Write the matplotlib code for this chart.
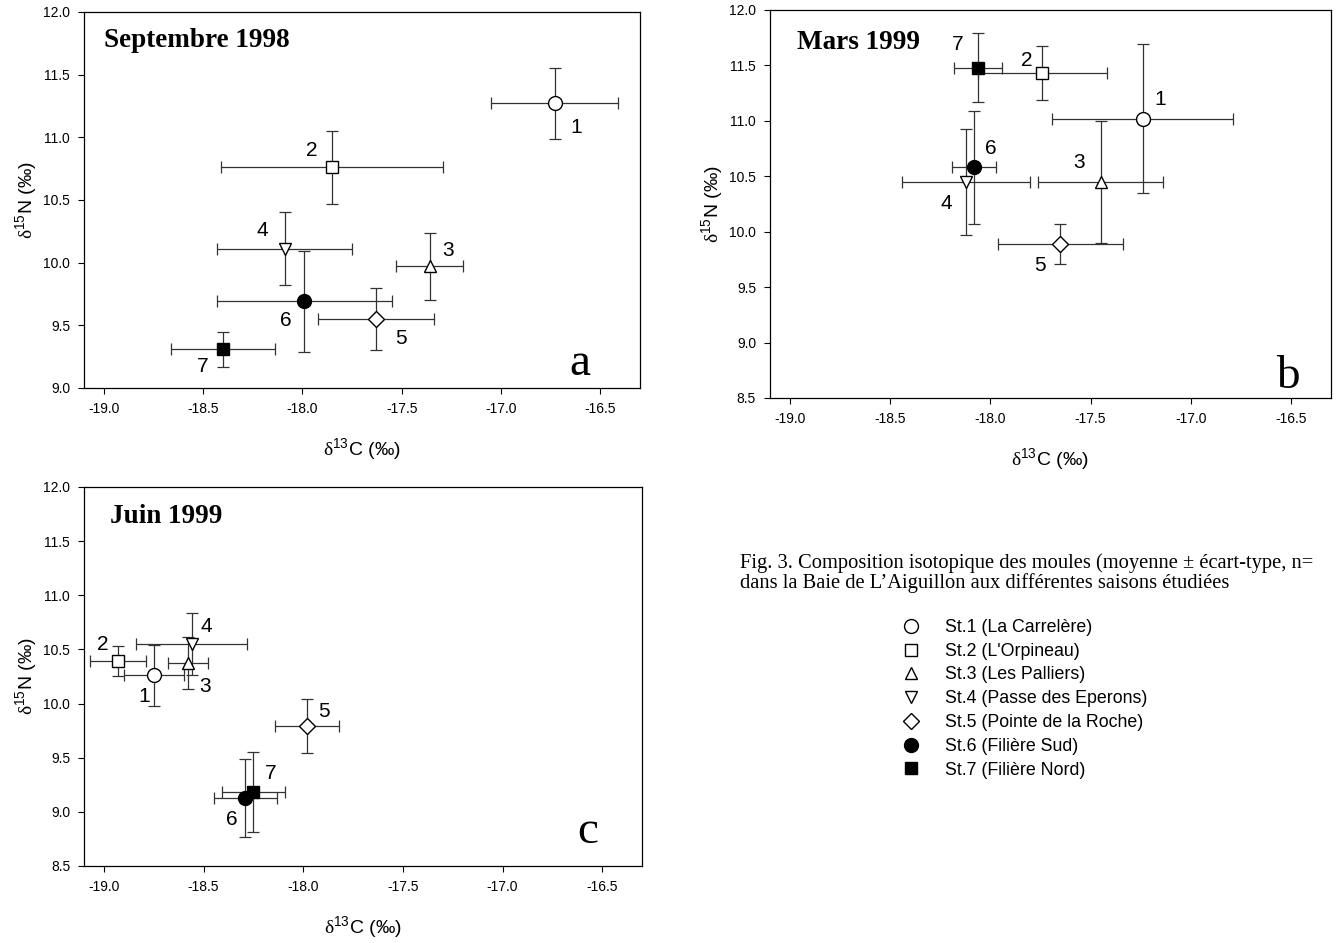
import numpy as np
import matplotlib
matplotlib.use('Agg')
import matplotlib.pyplot as plt
from matplotlib.lines import Line2D

plt.rcParams['font.family'] = ['Liberation Sans', 'DejaVu Sans']
plt.rcParams['mathtext.fontset'] = 'custom'
plt.rcParams['mathtext.rm'] = 'Liberation Serif'
plt.rcParams['mathtext.sf'] = 'Liberation Sans'

# station labels and symbols
stations = ['St.1 (La Carrelère)', 'St.2 (L\'Orpineau)', 'St.3 (Les Palliers)',
            'St.4 (Passe des Eperons)', 'St.5 (Pointe de la Roche)',
            'St.6 (Filière Sud)', 'St.7 (Filière Nord)']
numbers = ['1', '2', '3', '4', '5', '6', '7']

# Septembre 1998
x_sep = [-16.73, -17.85, -17.36, -18.09, -17.63, -17.99, -18.40]
y_sep = [11.27, 10.76, 9.97, 10.11, 9.55, 9.69, 9.31]
xerr_sep = [0.32, 0.56, 0.17, 0.34, 0.29, 0.44, 0.26]
yerr_sep = [0.28, 0.29, 0.27, 0.29, 0.25, 0.40, 0.14]

# Mars 1999
x_mar = [-17.24, -17.74, -17.45, -18.12, -17.65, -18.08, -18.06]
y_mar = [11.02, 11.43, 10.45, 10.45, 9.89, 10.58, 11.48]
xerr_mar = [0.45, 0.32, 0.31, 0.32, 0.31, 0.11, 0.12]
yerr_mar = [0.67, 0.24, 0.55, 0.48, 0.18, 0.51, 0.31]

# Juin 1999
x_jun = [-18.75, -18.93, -18.58, -18.56, -17.98, -18.29, -18.25]
y_jun = [10.26, 10.39, 10.37, 10.55, 9.79, 9.13, 9.18]
xerr_jun = [0.15, 0.14, 0.10, 0.28, 0.16, 0.16, 0.16]
yerr_jun = [0.28, 0.14, 0.24, 0.29, 0.25, 0.36, 0.37]

xticks = [-19.0, -18.5, -18.0, -17.5, -17.0, -16.5]

markers = ['o', 's', '^', 'v', 'D', 'o', 's']
fills = ['white'] * 5 + ['black', 'black']
msizes = [10, 8, 9, 9, 8, 10, 8]

fig = plt.figure(figsize=(13.36, 9.43), dpi=100)

panels = [
    dict(rect=[0.0629, 0.5886, 0.4162, 0.3987], x=x_sep, y=y_sep, xe=xerr_sep, ye=yerr_sep,
         ylim=(9.0, 12.0), title='Septembre 1998', letter='a', tpos=(0.036, 0.925), lpos=(0.892, 0.035),
         offs=[(22, -24), (-21, 17), (18, 16), (-22, 18), (25, -19), (-19, -19), (-20, -17)]),
    dict(rect=[0.5763, 0.5780, 0.4199, 0.4115], x=x_mar, y=y_mar, xe=xerr_mar, ye=yerr_mar,
         ylim=(8.5, 12.0), title='Mars 1999', letter='b', tpos=(0.048, 0.917), lpos=(0.923, 0.026),
         offs=[(18, 19), (-16, 13), (-21, 19), (-20, -22), (-20, -22), (17, 19), (-21, 23)]),
    dict(rect=[0.0629, 0.0817, 0.4177, 0.4019], x=x_jun, y=y_jun, xe=xerr_jun, ye=yerr_jun,
         ylim=(8.5, 12.0), title='Juin 1999', letter='c', tpos=(0.046, 0.921), lpos=(0.902, 0.06),
         offs=[(-10, -21), (-15, 17), (17, -23), (15, 17), (17, 15), (-14, -22), (17, 19)]),
]

for p in panels:
    ax = fig.add_axes(p['rect'])
    for i in range(7):
        ax.errorbar(p['x'][i], p['y'][i], xerr=p['xe'][i], yerr=p['ye'][i], fmt='none',
                    ecolor='#333333', elinewidth=0.9, capsize=4, capthick=0.9, zorder=2)
    for i in range(7):
        ax.plot(p['x'][i], p['y'][i], marker=markers[i], ms=msizes[i], mfc=fills[i],
                mec='black', mew=1.0, ls='none', zorder=3)
        ax.annotate(numbers[i], (p['x'][i], p['y'][i]), xytext=p['offs'][i],
                    textcoords='offset pixels', ha='center', va='center', fontsize=15)
    ax.set_xlim(-19.1, -16.3)
    ax.set_ylim(*p['ylim'])
    ax.set_xticks(xticks)
    ax.set_yticks(np.arange(p['ylim'][0], 12.01, 0.5))
    ax.xaxis.set_major_formatter(matplotlib.ticker.FormatStrFormatter('%.1f'))
    ax.yaxis.set_major_formatter(matplotlib.ticker.FormatStrFormatter('%.1f'))
    ax.tick_params(direction='out', length=4, width=0.8, labelsize=10, pad=6)
    ax.set_xlabel(r'$\mathrm{\delta}^{\mathsf{13}}$C (‰)', fontsize=14, labelpad=15)
    ax.set_ylabel(r'$\mathrm{\delta}^{\mathsf{15}}$N (‰)', fontsize=14, labelpad=2)
    for s in ax.spines.values():
        s.set_linewidth(0.9)
    ax.text(p['tpos'][0], p['tpos'][1], p['title'], transform=ax.transAxes,
            family='Liberation Serif', fontweight='bold', fontsize=19.5, va='center', ha='left')
    ax.text(p['lpos'][0], p['lpos'][1], p['letter'], transform=ax.transAxes,
            family='Liberation Serif', fontsize=34, va='baseline', ha='center')

# caption
fig.text(740 / 1336, 1 - 563 / 943,
         'Fig. 3. Composition isotopique des moules (moyenne ± écart-type, n=',
         family='Liberation Serif', fontsize=14.8, va='center', ha='left')
fig.text(740 / 1336, 1 - 583 / 943,
         'dans la Baie de L\u2019Aiguillon aux différentes saisons étudiées',
         family='Liberation Serif', fontsize=14.8, va='center', ha='left')

handles = [Line2D([], [], marker=markers[i], ms=msizes[i], mfc=fills[i], mec='black',
                  mew=1.0, ls='none') for i in range(7)]
fig.legend(handles, stations, loc='upper left', bbox_to_anchor=(0.6755, 0.3436),
           frameon=False, fontsize=12.8, handlelength=1.0, handletextpad=1.4,
           labelspacing=0.38, borderpad=0, borderaxespad=0)

fig.savefig('out.png', dpi=100)
